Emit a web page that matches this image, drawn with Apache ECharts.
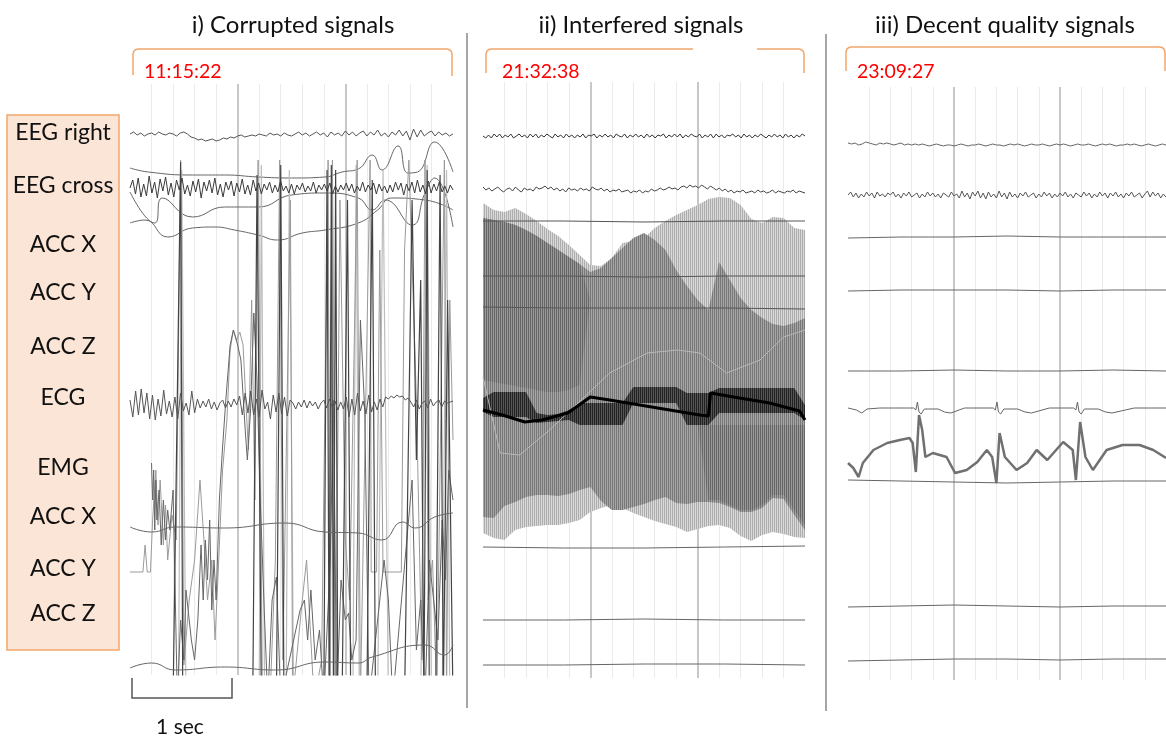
<!DOCTYPE html>
<html>
<head>
<meta charset="utf-8">
<script src="https://cdn.jsdelivr.net/npm/echarts@6/dist/echarts.min.js"></script>
<style>
html, body { margin: 0; background: #fff; }
#chart { width: 1166px; height: 738px; }
</style>
</head>
<body>
<div id="chart"></div>
<script>
// ---------- text ----------
const panelTitles = ['i) Corrupted signals', 'ii) Interfered signals', 'iii) Decent quality signals']
const panelTimes = ['11:15:22', '21:32:38', '23:09:27']
const channelNames = ['EEG right', 'EEG cross', 'ACC X', 'ACC Y', 'ACC Z', 'ECG', 'EMG', 'ACC X', 'ACC Y', 'ACC Z']

// ---------- panel i : corrupted ----------
const iEegR = [0,-2,1,-1,2,0,-1,1,-2,0,1,-1,0,2,-1,-2,0,3,4,6,5,7,6,5,7,6,4,5,3,4,2,1,3,2,1,2,0,1,2,-1,1,0,2,-1,1,2,0,-2,1,-1,2,0,-2,1,-1,3,-2,1,-1,2,-3,1,-2,2,-1,-3,2,-2,1,-4,2,-1,3,-2,1,-4,2,-3,6,-5,3,-4,2,-1,-3,2,-2,1,-1,2,0]
const iEegC = [0,-8,6,-10,9,-4,8,-12,5,-6,10,-9,3,-11,7,-5,9,-8,2,-10,6,-3,8,-7,4,-9,10,-6,3,-8,5,-10,7,-4,9,-6,2,-7,8,-5,4,-9,6,-3,7,-8,3,-5,6,-4,2,-6,5,-3,4,-7,3,-2,5,-4,6,-3,2,-5,4,-2,3,-6,5,-3,2,-4,3,-5,6,-2,4,-3,2,-5,3,-4,5,-2,3,-6,4,-3,2,-5,6,-4,3,-2,5,-3,4,-6,2,-5,7,-4,3,-6,5,-8,4,-3,6,-7,5,-4,3,-6,4,-2,5,-3,2]
const iEcg = [-5,12,-14,10,-16,8,-12,14,-10,15,-6,11,-15,9,-4,12,-8,14,-12,6,-2,10,-14,8,-6,3,-4,2,-6,4,-3,5,-2,-5,3,-4,2,-6,0,-9,10,-12,8,-14,10,-6,12,-15,4,-3,14,-10,7,-12,9,-8,11,-5,-2,4,-3,2,-5,3,-4,1,-3,4,-2,-5,3,-6,2,-4,5,-3,4,-8,12,-6,10,-12,6,-4,9,-10,7,-3,5,-6,2,-8,-6,-9,-7,-10,-8,-9,-5,-7,-3,2,-5,4,-2,-4,3,-6,1,-3,-5,2,-4,-2,-3,-4]
const iSlowAT = [0,0.17,0.58,0.88,1.19,1.50,1.81,1.97,2.12,2.25,2.34,2.49,2.58,2.67,2.83,3.0]
const iSlowAV = [168,172,175,175,177,178,177,172,169,155,170,146,173,172,142,172]
const iSlowBT = [0,0.23,0.30,0.58,0.88,1.19,1.50,1.81,2.12,2.25,2.37,2.62,2.74,2.83,3.0]
const iSlowBV = [192,223,198,217,207,207,195,193,198,210,200,225,193,178,227]
const iSlowCT = [0,0.14,0.35,0.58,0.79,0.97,1.19,1.37,1.60,1.81,2.12,2.30,2.43,2.74,3.0]
const iSlowCV = [223,220,237,228,227,230,235,240,233,230,223,210,198,200,210]
const iAccX2T = [0,0.20,0.42,0.88,1.44,1.81,2.12,2.34,2.53,2.65,2.83,3.0]
const iAccX2V = [527,532,527,528,523,532,533,540,522,528,517,513]
const iAccZ2T = [0,0.20,0.42,0.88,1.35,1.81,2.12,2.25,2.74,2.92,3.0]
const iAccZ2V = [668,663,670,667,670,662,663,657,645,655,645]
// saturating accelerometer / EMG traces (values past the frame are clipped)
const chaosAT = [0,0.12,0.14,0.16,0.19,0.21,0.24,0.26,0.28,0.31,0.33,0.35,0.39,0.43,0.47,0.50,0.55,0.60,0.65,0.69,0.72,0.76,0.79,0.82,0.86,0.90,0.93,0.96,0.99,1.02,1.05,1.08,1.10,1.13,1.16,1.19,1.23,1.30,1.35,1.39,1.42,1.49,1.51,1.60,1.64,1.67,1.71,1.78,1.84,1.86,1.88,1.91,1.95,2.00,2.04,2.09,2.11,2.14,2.23,2.24,2.29,2.32,2.35,2.52,2.55,2.59,2.66,2.71,2.74,2.77,2.81,2.85,2.92,2.94,2.97,3.00]
const chaosAV = [572,572,545,572,572,520,470,525,480,545,505,560,515,540,160,665,600,560,480,545,600,560,640,570,470,420,350,330,340,332,345,410,450,300,500,160,700,700,560,160,660,200,700,600,560,620,700,660,160,700,160,700,200,540,600,300,160,700,160,572,572,250,572,572,250,160,400,660,160,600,560,700,160,700,300,440]
const chaosBT = [0.20,0.21,0.22,0.23,0.24,0.25,0.27,0.29,0.31,0.33,0.35,0.37,0.40,0.44,0.47,0.50,0.52,0.57,0.60,0.63,0.66,0.68,0.70,0.72,0.74,0.76,0.78,0.80,0.83,0.86,0.89,0.93,0.96,1.00,1.03,1.07,1.09,1.12,1.15,1.18,1.21,1.25,1.28,1.32,1.36,1.40,1.50,1.58,1.62,1.65,1.68,1.72,1.76,1.80,1.86,1.89,1.92,1.96,2.00,2.03,2.06,2.10,2.14,2.18,2.22,2.36,2.40,2.44,2.62,2.66,2.70,2.74,2.78,2.82,2.86,2.90,2.93,2.96,3.00]
const chaosBV = [463,500,470,530,480,520,490,545,500,540,510,530,490,700,620,660,590,640,660,620,545,600,540,580,520,610,560,600,500,447,400,345,330,345,360,430,460,410,313,380,500,620,700,600,577,700,650,610,600,640,590,660,630,700,560,400,700,580,620,613,660,640,320,410,700,560,600,700,480,650,600,700,560,600,640,520,580,470,500]
const chaosCT = [0.40,0.47,0.49,1.14,1.18,1.22,1.36,1.40,1.43,1.80,1.83,1.85,1.87,1.89,1.91,1.93,1.97,2.02,2.05,2.20,2.25,2.28,2.55,2.62,2.66,2.70,2.73,2.76,2.78,2.84,2.88,2.91,2.95,3.00]
const chaosCV = [700,162,700,700,175,700,700,165,700,700,170,700,165,700,170,700,700,200,700,700,180,700,700,200,460,280,700,170,700,700,175,700,300,700]
const chaosDT = [0.45,0.48,0.52,1.20,1.22,1.25,1.45,1.48,1.52,1.85,1.88,1.90,2.07,2.10,2.13,2.30,2.35,2.40,2.70,2.76,2.80,2.90,2.94,2.97]
const chaosDV = [700,170,700,700,165,700,700,170,700,700,170,700,700,165,700,700,170,700,700,165,700,700,170,700]

// ---------- panel ii : interfered ----------
const iiEegR = [0,2,-1,2,-2,1,-2,2,-1,1,-2,2,0,-2,1,-1,2,-2,1,-2,2,-1,1,-2,0,2,-2,1,-1,2,-2,1,-1,2,-1,1,-2,2,-1,0,-2,2,-1,1,-2,1,-1,2,-2,0,1,-2,2,-1,1,-2,1,-1,2,-2,1,-1,2,-1,0,-2,2,-1,1,-2,1,-2,2,-1,1,-2,0,1,-2,2,-1,1,-2,2,-2,1,-1,2,-1,0,-2,1,-1,2,-2,1,-1,2,-1,1,-2,0,2,-1,1,-2,1,-1,2,-2,1,-1,2,-1,1,-2,0]
const iiEegC = [-3,0,-2,1,-1,-3,0,2,-1,-2,1,-3,0,2,-2,0,-1,1,-3,-1,-2,-4,-1,-3,0,-2,1,-1,2,-2,0,-1,1,-2,0,-1,1,-3,-1,0,-2,1,-1,2,0,1,-1,2,1,0,3,1,2,0,3,1,2,-1,1,0,-2,0,-1,-3,-1,-2,0,-3,-4,-2,-5,-3,-4,-2,-5,-3,-1,-4,-2,0,-2,1,-1,2,0,3,1,2,0,3,2,1,3,0,2,1,3,2,0,3,1,2,3,1,2,0,3,1,2,3]
// envelopes of the oscillating accelerometer traces, one reading every 0.1 s
const iiLightTop = [203,210,212,208,214,221,229,236,245,255,265,266,258,243,241,238,228,221,215,210,205,199,197,198,205,219,223,217,218,228,230]
const iiLightBot = [533,538,540,530,527,526,525,525,523,520,512,508,505,508,513,517,521,524,527,532,529,526,525,528,536,541,535,532,534,537,538]
const iiMidTop = [218,220,222,225,230,236,243,250,257,264,272,268,258,248,238,233,240,250,270,286,300,310,262,280,298,310,318,324,326,323,318]
const iiMidBot = [517,518,506,502,497,495,495,496,494,490,487,501,510,510,507,504,500,497,503,504,502,502,503,507,512,512,508,498,499,515,530]
const iiDeepTop = [218,220,222,225,230,236,243,250,257,264,300,400,400,400,400,400,400,400,400,400,425,425,425,425,425,425,425,425,425,425,425]
const iiDeepBot = [380,382,384,386,388,390,392,392,390,385,300,400,400,400,400,400,400,400,400,400,425,500,500,505,510,510,505,495,495,510,525]
const iiDarkTop = [398,392,392,392,392,413,415,414,410,403,403,403,403,403,387,387,387,387,387,393,393,393,388,388,388,388,388,388,388,388,405]
const iiDarkBot = [412,417,417,417,417,423,422,421,420,425,425,425,425,425,403,403,403,403,403,425,425,425,413,413,413,413,413,413,413,413,420]
const iiBlackT = [0,0.18,0.39,0.55,0.79,1.00,1.18,1.46,1.74,2.02,2.10,2.12,2.39,2.67,2.95,3.0]
const iiBlackV = [410,415,422,420,413,397,400,405,410,415,416,393,398,403,411,420]
const iiFaintT = [0,0.16,0.34,0.62,1.18,1.53,1.81,2.02,2.27,2.58,2.80,3.0]
const iiFaintV = [377,453,455,430,373,353,350,353,373,360,337,330]
const iiFlatT = [0,0.75,1.5,2.25,3]
const iiLine1 = [221,221,222,221,221]
const iiLine2 = [276,276,277,276,276]
const iiLine3 = [307,308,308,308,309]
const iiAccX2 = [547,548,548,547,546]
const iiAccY2 = [620,620,619,620,620]
const iiAccZ2 = [665,665,664,664,665]

// ---------- panel iii : decent quality ----------
const iiiEegR = [-1,0,-1,1,0,-2,-1,0,1,-1,0,-1,0,1,0,-1,1,0,1,0,1,0,1,2,1,0,1,2,1,1,2,1,0,1,2,1,1,0,1,2,1,0,1,1,2,1,0,1,0,1,2,1,0,1,1,0,1,2,1,0,1,0,1,2,1,0,1,1,0,1,2,1,0,1,0,1,2,1,1,0,1,0,1,2,1,0,1,2,1,0,1]
const iiiEegC = [0,-3,2,-2,3,-1,2,-3,1,-2,3,-3,1,-1,2,-2,0,-3,2,-1,3,-2,1,-3,2,0,-2,3,-1,2,-3,1,-2,2,-1,3,-2,0,2,-3,1,-1,3,-4,2,-2,4,-3,1,-4,3,-2,4,-3,2,-1,3,-4,2,-2,4,-3,2,-1,3,-2,1,-3,2,0,-2,3,-1,2,-3,1,-2,3,-1,2,-2,1,-3,2,-1,3,-2,0,2,-3,1,-2,3,-1,2,-3,1,-2,3,-2,1,-3,2,-1,3,-2,1,-3,2,0,-2,3,-1,-4,2,-3,1,-2,3,-1,2]
const iiiEcgT = [0,0.08,0.13,0.18,0.30,0.62,0.64,0.655,0.67,0.69,0.72,0.85,0.91,0.97,1.10,1.37,1.39,1.405,1.42,1.44,1.47,1.60,1.67,1.73,1.90,2.13,2.15,2.165,2.18,2.20,2.23,2.36,2.43,2.49,2.70,3.0]
const iiiEcgV = [408,410,413,409,408,408,410,402,412,414,409,409,412,413,408,408,410,402,412,414,409,409,412,413,408,408,410,402,412,414,409,409,412,413,408,408]
const iiiEmgT = [0,0.05,0.10,0.14,0.24,0.37,0.49,0.58,0.61,0.64,0.67,0.70,0.73,0.80,0.93,1.01,1.12,1.22,1.31,1.36,1.40,1.43,1.48,1.59,1.69,1.78,1.88,2.03,2.12,2.15,2.19,2.24,2.31,2.44,2.59,2.75,2.88,3.00]
const iiiEmgV = [463,468,477,463,450,443,440,438,443,472,415,430,457,453,457,473,470,462,450,457,483,433,457,470,463,450,460,442,450,480,422,457,470,450,445,445,450,458]
const iiiFlatT = [0,0.5,1,1.5,2,2.5,3]
const iiiAccX = [238,237,237,236,237,237,237]
const iiiAccY = [291,290,290,290,291,290,290]
const iiiAccZ = [371,371,370,371,371,370,371]
const iiiAccX2 = [480,481,482,483,482,481,481]
const iiiAccY2 = [607,606,605,606,607,606,606]
const iiiAccZ2 = [661,660,659,659,660,659,659]

// ---------- layout ----------
const grids = [
  { left: 130, top: 84, width: 323, height: 591 },
  { left: 483, top: 82, width: 322, height: 596 },
  { left: 848, top: 87, width: 318, height: 593 }
]
const titleX = [293, 641, 1005]
const timeX = [144, 502, 857]
const labelY = [133, 186, 245, 293, 347, 398, 468, 517, 569, 614]
const orange = '#F2A66C'
const FONT = 'Lato, "Open Sans", sans-serif'

const even = (vals, base) => vals.map((v, i) => [i * 3 / (vals.length - 1), base + v])
const paired = (ts, vs) => ts.map((t, i) => [t, vs[i]])

function trace (gi, data, color, width, smooth) {
  return {
    type: 'line', xAxisIndex: gi, yAxisIndex: gi, data,
    symbol: 'none', smooth: smooth || false, silent: true,
    lineStyle: { color, width }
  }
}

function stripes (c1, c2) {
  const cv = document.createElement('canvas')
  cv.width = 2; cv.height = 4
  const ctx = cv.getContext('2d')
  ctx.fillStyle = c2; ctx.fillRect(0, 0, 2, 4)
  ctx.fillStyle = c1; ctx.fillRect(0, 0, 1, 4)
  return { image: cv, repeat: 'repeat' }
}

// filled band between two envelopes, drawn as one polygon
function band (gi, top, bot, fill) {
  const ts = top.map((_, i) => i * 3 / (top.length - 1))
  return {
    type: 'custom', xAxisIndex: gi, yAxisIndex: gi, silent: true,
    data: ts.map((t, i) => [t, top[i], bot[i]]),
    renderItem (params, api) {
      if (params.dataIndex !== 0) return
      const up = ts.map((t, i) => api.coord([t, top[i]]))
      const down = ts.map((t, i) => api.coord([t, bot[i]])).reverse()
      return { type: 'polygon', shape: { points: up.concat(down) }, style: { fill } }
    }
  }
}

const series = [
  // panel i
  trace(0, even(iEegR, 134), '#555', 1),
  trace(0, paired(iSlowAT, iSlowAV), '#666', 1, 0.5),
  trace(0, paired(iSlowBT, iSlowBV), '#666', 1, 0.5),
  trace(0, paired(iSlowCT, iSlowCV), '#666', 1, 0.5),
  trace(0, paired(chaosDT, chaosDV), '#bdbdbd', 1.2),
  trace(0, paired(chaosAT, chaosAV), '#9a9a9a', 1),
  trace(0, paired(chaosBT, chaosBV), '#666', 1),
  trace(0, paired(chaosCT, chaosCV), '#444', 1.2),
  trace(0, even(iEegC, 188), '#3a3a3a', 1),
  trace(0, even(iEcg, 405), '#555', 1),
  trace(0, paired(iAccX2T, iAccX2V), '#666', 1, 0.5),
  trace(0, paired(iAccZ2T, iAccZ2V), '#666', 1, 0.5),
  // panel ii
  trace(1, even(iiEegR, 136), '#333', 1),
  trace(1, even(iiEegC, 190), '#444', 1),
  band(1, iiLightTop, iiLightBot, stripes('#adadad', '#dadada')),
  band(1, iiMidTop, iiMidBot, stripes('#777777', '#a6a6a6')),
  band(1, iiDeepTop, iiDeepBot, stripes('#666666', '#999999')),
  trace(1, paired(iiFaintT, iiFaintV), '#b8b8b8', 1),
  band(1, iiDarkTop, iiDarkBot, stripes('#222222', '#555555')),
  trace(1, paired(iiBlackT, iiBlackV), '#000', 3),
  trace(1, paired(iiFlatT, iiLine1), '#555', 1),
  trace(1, paired(iiFlatT, iiLine2), '#555', 1),
  trace(1, paired(iiFlatT, iiLine3), '#555', 1),
  trace(1, paired(iiFlatT, iiAccX2), '#666', 1),
  trace(1, paired(iiFlatT, iiAccY2), '#666', 1),
  trace(1, paired(iiFlatT, iiAccZ2), '#666', 1),
  // panel iii
  trace(2, even(iiiEegR, 144), '#666', 1),
  trace(2, even(iiiEegC, 195), '#555', 1),
  trace(2, paired(iiiFlatT, iiiAccX), '#666', 1),
  trace(2, paired(iiiFlatT, iiiAccY), '#666', 1),
  trace(2, paired(iiiFlatT, iiiAccZ), '#666', 1),
  trace(2, paired(iiiEcgT, iiiEcgV), '#666', 1),
  trace(2, paired(iiiEmgT, iiiEmgV), '#707070', 2.5),
  trace(2, paired(iiiFlatT, iiiAccX2), '#666', 1),
  trace(2, paired(iiiFlatT, iiiAccY2), '#666', 1),
  trace(2, paired(iiiFlatT, iiiAccZ2), '#666', 1)
]

// rounded-corner bracket as a polyline
function bracket (x1, x2, y, legL, legR) {
  const r = [[0, 5], [0.7, 2.5], [2.5, 0.7], [5, 0]]
  const pts = [[x1, y + legL]]
  r.forEach(([dx, dy]) => pts.push([x1 + dx, y + dy]))
  r.slice().reverse().forEach(([dx, dy]) => pts.push([x2 - dx, y + dy]))
  pts.push([x2, y + legR])
  return pts
}

const graphic = []
// channel label box
graphic.push({ type: 'rect', shape: { x: 7, y: 115, width: 112, height: 535 },
  style: { fill: '#FBE5D6', stroke: orange, lineWidth: 1.5 } })
channelNames.forEach((n, i) => graphic.push({ type: 'text', x: 63, y: labelY[i],
  style: { text: n, font: '23px ' + FONT, fill: '#111', textAlign: 'center', textVerticalAlign: 'middle' } }))
// titles, brackets, timestamps
panelTitles.forEach((t, i) => graphic.push({ type: 'text', x: titleX[i], y: 25,
  style: { text: t, font: '24px ' + FONT, fill: '#111', textAlign: 'center', textVerticalAlign: 'middle' } }))
const bracketLines = [bracket(133, 452, 49, 26, 27), bracket(486, 804, 49, 24, 24), bracket(846, 1165, 47, 24, 24)]
bracketLines.forEach(pts => graphic.push({ type: 'polyline', shape: { points: pts },
  style: { fill: null, stroke: orange, lineWidth: 1.5 } }))
// gap in the top edge of the second bracket
graphic.push({ type: 'rect', shape: { x: 693, y: 46, width: 64, height: 6 }, style: { fill: '#fff' } })
panelTimes.forEach((t, i) => graphic.push({ type: 'text', x: timeX[i], y: 72,
  style: { text: t, font: '19.5px ' + FONT, fill: '#ff0000', textAlign: 'left', textVerticalAlign: 'middle' } }))
// panel separators
graphic.push({ type: 'line', shape: { x1: 467, y1: 33, x2: 467, y2: 708 }, style: { stroke: '#a6a6a6', lineWidth: 2 } })
graphic.push({ type: 'line', shape: { x1: 826, y1: 34, x2: 826, y2: 711 }, style: { stroke: '#a6a6a6', lineWidth: 2 } })
// scale bar
graphic.push({ type: 'polyline', shape: { points: [[132, 678], [132, 698], [232, 698], [232, 678]] },
  style: { fill: null, stroke: '#555', lineWidth: 1.5 } })
graphic.push({ type: 'text', x: 180, y: 727,
  style: { text: '1 sec', font: '21px ' + FONT, fill: '#111', textAlign: 'center', textVerticalAlign: 'middle' } })

const chart = echarts.init(document.getElementById('chart'))
chart.setOption({
  animation: false,
  backgroundColor: '#fff',
  grid: grids,
  xAxis: grids.map((g, i) => ({
    gridIndex: i, type: 'value', min: 0, max: 3, interval: 1,
    axisLine: { show: false }, axisTick: { show: false }, axisLabel: { show: false },
    splitLine: { show: true, showMinLine: false, showMaxLine: false, lineStyle: { color: '#c8c8c8', width: 2 } },
    minorTick: { show: false, splitNumber: 5 },
    minorSplitLine: { show: true, lineStyle: { color: '#ebebeb', width: 1 } }
  })),
  yAxis: grids.map((g, i) => ({
    gridIndex: i, type: 'value', inverse: true, min: g.top, max: g.top + g.height, show: false
  })),
  series,
  graphic
})
</script>
</body>
</html>
